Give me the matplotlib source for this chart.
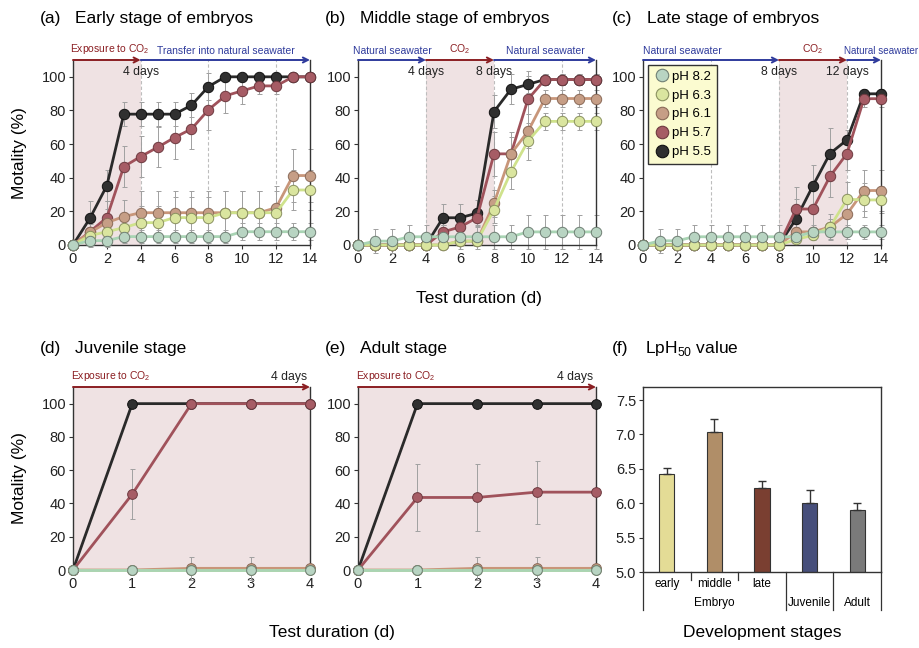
import matplotlib
matplotlib.use('Agg')
import matplotlib.pyplot as plt
from matplotlib import font_manager
from matplotlib.lines import Line2D

names = {f.name for f in font_manager.fontManager.ttflist}
NARROW = 'Liberation Sans Narrow' if 'Liberation Sans Narrow' in names else 'Liberation Sans'
NARROW_SCALE = 1.0 if NARROW == 'Liberation Sans Narrow' else 0.83
plt.rcParams['font.family'] = ['Liberation Sans', 'DejaVu Sans']

# ---------------- data ----------------
ph_labels = ['pH 8.2', 'pH 6.3', 'pH 6.1', 'pH 5.7', 'pH 5.5']

days14 = list(range(15))
days4 = list(range(5))

# (a) early stage of embryos
a_82 = [0, 2.6, 2.6, 5, 5, 5, 5, 5, 5, 5, 7.9, 7.9, 7.9, 7.9, 7.9]
a_63 = [0, 5.6, 7.9, 10.3, 13.3, 13.3, 16.3, 16.3, 16.3, 19.2, 19.2, 19.2, 19.2, 32.7, 32.7]
a_61 = [0, 7.5, 13.3, 16.9, 19.2, 19.2, 19.2, 19.2, 19.2, 19.2, 19.2, 19.2, 22.2, 41.3, 41.3]
a_57 = [0, 7.9, 16.3, 46.6, 52.6, 58.1, 63.9, 69, 80.4, 88.7, 91.7, 94.6, 94.6, 100, 100]
a_55 = [0, 15.9, 35.3, 77.8, 77.8, 77.8, 77.8, 83.1, 94.2, 100, 100, 100, 100, 100, 100]
ea_82 = [0, 4, 4, 4, 4, 4, 4, 4, 4, 4, 5, 5, 5, 5, 5]
ea_63 = [0, 4, 6, 8, 10, 10, 12, 12, 12, 13, 13, 13, 13, 12, 12]
ea_61 = [0, 5, 8, 10, 13, 13, 13, 13, 13, 13, 13, 13, 13, 16, 16]
ea_57 = [0, 6, 10, 12, 12, 12, 13, 12, 12, 10, 8, 5, 5, 0, 0]
ea_55 = [0, 10, 9, 7, 7, 7, 7, 7, 8, 0, 0, 0, 0, 0, 0]

# (b) middle stage of embryos
b_82 = [0, 2.3, 2.3, 4.9, 4.9, 4.9, 4.9, 4.9, 4.9, 4.9, 7.8, 7.8, 7.8, 7.8, 7.8]
b_63 = [0, 0, 0, 0, 0, 0, 2.3, 2.3, 21, 43.5, 61.8, 73.5, 73.5, 73.5, 73.5]
b_61 = [0, 0, 0, 0, 0, 0, 2.3, 2.3, 24.8, 54.2, 67.6, 87.1, 87.1, 87.1, 87.1]
b_57 = [0, 0, 0, 0, 0, 7.8, 10.7, 16.2, 54.2, 54.2, 86.7, 98.4, 98.4, 98.4, 98.4]
b_55 = [0, 0, 0, 0, 0, 16.2, 16.2, 18.9, 79.3, 92.6, 95.5, 98.4, 98.4, 98.4, 98.4]
eb_82 = [0, 7, 7, 7, 7, 7, 7, 7, 7, 7, 10, 10, 10, 10, 10]
eb_63 = [0, 0, 0, 0, 0, 0, 2, 2, 8, 10, 11, 5, 5, 5, 5]
eb_61 = [0, 0, 0, 0, 0, 0, 2, 2, 8, 10, 10, 5, 5, 5, 5]
eb_57 = [0, 0, 0, 0, 0, 4, 5, 5, 13, 13, 17, 3, 3, 3, 3]
eb_55 = [0, 0, 0, 0, 0, 8, 8, 8, 10, 9, 5, 3, 3, 3, 3]

# (c) late stage of embryos
c_82 = [0, 2.5, 2.5, 4.9, 4.9, 4.9, 4.9, 4.9, 4.9, 4.9, 7.8, 7.8, 7.8, 7.8, 7.8]
c_63 = [0, 0, 0, 0, 0, 0, 0, 0, 0, 3.3, 5.8, 10.7, 27.2, 26.8, 26.8]
c_61 = [0, 0, 0, 0, 0, 0, 0, 0, 0, 7.8, 7.8, 10.7, 18.4, 32.4, 32.4]
c_57 = [0, 0, 0, 0, 0, 0, 0, 0, 0, 21.4, 21.4, 40.8, 54.4, 87, 87]
c_55 = [0, 0, 0, 0, 0, 0, 0, 0, 0, 15.5, 35.3, 54.4, 62.5, 89.9, 89.9]
ec_82 = [0, 7, 7, 7, 7, 7, 7, 7, 7, 4, 4, 4, 4, 4, 4]
ec_63 = [0, 0, 0, 0, 0, 0, 0, 0, 0, 2, 3, 8, 10, 10, 8]
ec_61 = [0, 0, 0, 0, 0, 0, 0, 0, 0, 3, 3, 5, 10, 12, 12]
ec_57 = [0, 0, 0, 0, 0, 0, 0, 0, 0, 13, 13, 12, 10, 5, 5]
ec_55 = [0, 0, 0, 0, 0, 0, 0, 0, 0, 12, 12, 15, 6, 3, 3]

# (d) juvenile stage
d_82 = [0, 0, 0, 0, 0]
d_63 = [0, 0, 0, 0, 0]
d_61 = [0, 0, 1, 1, 1]
d_57 = [0, 45.6, 100, 100, 100]
d_55 = [0, 100, 100, 100, 100]
ed_82 = [0, 0, 0, 0, 0]
ed_63 = [0, 0, 0, 0, 0]
ed_61 = [0, 0, 7, 7, 0]
ed_57 = [0, 15, 0, 0, 0]
ed_55 = [0, 0, 0, 0, 0]

# (e) adult stage
e_82 = [0, 0, 0, 0, 0]
e_63 = [0, 0, 0, 0, 0]
e_61 = [0, 0, 1, 1, 1]
e_57 = [0, 43.6, 43.6, 46.8, 46.8]
e_55 = [0, 100, 100, 100, 100]
ee_82 = [0, 0, 0, 0, 0]
ee_63 = [0, 0, 0, 0, 0]
ee_61 = [0, 0, 7, 7, 0]
ee_57 = [0, 20, 20, 19, 0]
ee_55 = [0, 0, 0, 0, 0]

# (f) LpH50 values
stages = ['early', 'middle', 'late', 'Juvenile', 'Adult']
lph50 = [6.42, 7.03, 6.22, 6.00, 5.90]
lph50_err = [0.09, 0.20, 0.10, 0.19, 0.11]

# ---------------- styles ----------------
line_cols = ['#a9d4b4', '#cfe28c', '#c8967a', '#a0525b', '#2a2a2a']
face_cols = ['#b8d4c2', '#dae59f', '#c69e86', '#a65c65', '#303030']
edge_cols = ['#6f7f74', '#8a9160', '#8a6a58', '#6e3a40', '#111111']
bar_cols = ['#e4dc96', '#b08e68', '#7a3f31', '#474f7b', '#7a7a7a']
RED = '#8b1e22'
BLUE = '#2f3b9c'
PINK = '#efe2e3'
ARROW_FS = 9 * NARROW_SCALE
DAYS_FS = 10 * NARROW_SCALE + 0.5

fig = plt.figure(figsize=(9.2, 6.48), dpi=100)
W, H = 920.0, 648.0


def add_ax(x0, x1, ytop, ybot):
    return fig.add_axes([x0 / W, 1 - ybot / H, (x1 - x0) / W, (ybot - ytop) / H])


def style_axes(ax):
    ax.spines['top'].set_visible(False)
    for s in ('left', 'bottom', 'right'):
        ax.spines[s].set_color('#333333')
        ax.spines[s].set_linewidth(1.0)
    ax.tick_params(direction='out', length=3, width=0.8, colors='#333333',
                   labelsize=10.5, labelcolor='#222222', pad=2)
    ax.tick_params(axis='y', right=False)


def draw_series(ax, days, series, errs, ms=7.5):
    # draw from pH 5.5 (bottom) up to pH 8.2 (top)
    order = [4, 3, 2, 1, 0]
    for k, i in enumerate(order):
        y = series[i]
        e = errs[i]
        ax.errorbar(days, y, yerr=e, fmt='none', ecolor='#a0a0a0', elinewidth=0.7,
                    capsize=1.8, capthick=0.7, zorder=2 + k * 0.1, clip_on=False)
        ax.plot(days, y, '-', color=line_cols[i], lw=2.0, marker='o', ms=ms,
                mfc=face_cols[i], mec=edge_cols[i], mew=0.7, zorder=3 + k * 0.1,
                clip_on=False)


def arrows(ax, segs, top=110):
    for (s, e, col, lab, ha, xoff, fscale) in segs:
        ax.annotate('', xy=(e, top), xytext=(s, top),
                    arrowprops=dict(arrowstyle='->', color=col, lw=1.4,
                                    shrinkA=0, shrinkB=0, mutation_scale=9),
                    annotation_clip=False, zorder=6)
        if lab:
            if ha == 'center':
                x = (s + e) / 2.0
            elif ha == 'left':
                x = s
            else:
                x = e
            ax.annotate(lab, xy=(x + xoff, top), xytext=(0, 3), textcoords='offset points',
                        ha=ha, va='bottom', color=col, fontsize=ARROW_FS * fscale,
                        family=NARROW, annotation_clip=False)


CO2 = r'CO$_\mathregular{2}$'

# ---------- top row ----------
top_y0, top_y1 = 60, 245
xs_top = [(73, 310), (358, 596), (643, 881)]
data_top = [
    ([a_82, a_63, a_61, a_57, a_55], [ea_82, ea_63, ea_61, ea_57, ea_55]),
    ([b_82, b_63, b_61, b_57, b_55], [eb_82, eb_63, eb_61, eb_57, eb_55]),
    ([c_82, c_63, c_61, c_57, c_55], [ec_82, ec_63, ec_61, ec_57, ec_55]),
]
shades = [(0, 4), (4, 8), (8, 12)]
arrow_specs = [
    [(0, 4, RED, 'Exposure to ' + CO2, 'left', -0.15, 1.0),
     (4, 14, BLUE, 'Transfer into natural seawater', 'center', 0.05, 1.0)],
    [(0, 4, BLUE, 'Natural seawater', 'center', 0, 1.0),
     (4, 8, RED, CO2, 'center', 0, 1.0),
     (8, 14, BLUE, 'Natural seawater', 'center', 0, 1.0)],
    [(0, 8, BLUE, 'Natural seawater', 'left', 0, 1.0),
     (8, 12, RED, CO2, 'center', 0, 1.0),
     (12, 14, BLUE, 'Natural seawater', 'left', -0.2, 0.95)],
]
day_marks = [[(4, '4 days')], [(4, '4 days'), (8, '8 days')], [(8, '8 days'), (12, '12 days')]]
titles_top = [('(a)', 'Early stage of embryos', 40),
              ('(b)', 'Middle stage of embryos', 325),
              ('(c)', 'Late stage of embryos', 612)]

top_axes = []
for p in range(3):
    ax = add_ax(xs_top[p][0], xs_top[p][1], top_y0, top_y1)
    top_axes.append(ax)
    style_axes(ax)
    ax.set_xlim(0, 14)
    ax.set_ylim(0, 110)
    ax.set_xticks(range(0, 15, 2))
    ax.set_yticks(range(0, 101, 20))
    ax.axvspan(shades[p][0], shades[p][1], color=PINK, zorder=0, lw=0)
    ax.vlines([4, 8, 12], 0, 110, colors='#bdbdbd', linestyles=(0, (3, 2)),
              lw=0.8, zorder=0.5)
    draw_series(ax, days14, data_top[p][0], data_top[p][1])
    arrows(ax, arrow_specs[p])
    for (d, lab) in day_marks[p]:
        ax.text(d, 103, lab, ha='center', va='center', fontsize=DAYS_FS,
                family=NARROW, color='#222222', zorder=7)
    lab, tit, x0 = titles_top[p]
    fig.text(x0 / W, 1 - 18 / H, lab, fontsize=12.5, va='center', ha='left')
    fig.text((x0 + 35) / W, 1 - 18 / H, tit, fontsize=12.5, va='center', ha='left')

# legend in (c)
handles = [Line2D([], [], ls='none', marker='o', ms=9, mfc=face_cols[i],
                  mec=edge_cols[i], mew=0.8) for i in range(5)]
leg = top_axes[2].legend(handles, ph_labels, loc='upper left',
                         bbox_to_anchor=(0.02, 0.975), borderaxespad=0,
                         frameon=True, fancybox=False, framealpha=1,
                         facecolor='#fbfbd0', edgecolor='#333333', fontsize=9.5,
                         handletextpad=0.2, labelspacing=0.5, borderpad=0.45,
                         handlelength=1.2)
leg.get_frame().set_linewidth(1.0)
leg.set_zorder(10)

# ---------- bottom row ----------
bot_y0, bot_y1 = 387, 570
xs_bot = [(73, 310), (358, 596)]
data_bot = [
    ([d_82, d_63, d_61, d_57, d_55], [ed_82, ed_63, ed_61, ed_57, ed_55]),
    ([e_82, e_63, e_61, e_57, e_55], [ee_82, ee_63, ee_61, ee_57, ee_55]),
]
titles_bot = [('(d)', 'Juvenile stage', 40), ('(e)', 'Adult stage', 325)]
for p in range(2):
    ax = add_ax(xs_bot[p][0], xs_bot[p][1], bot_y0, bot_y1)
    style_axes(ax)
    ax.set_xlim(0, 4)
    ax.set_ylim(0, 110)
    ax.set_xticks(range(0, 5))
    ax.set_yticks(range(0, 101, 20))
    ax.axvspan(0, 4, color=PINK, zorder=0, lw=0)
    draw_series(ax, days4, data_bot[p][0], data_bot[p][1], ms=7)
    arrows(ax, [(0, 4, RED, 'Exposure to ' + CO2, 'left', -0.04, 1.0)])
    ax.annotate('4 days', xy=(3.95, 110), xytext=(0, 3), textcoords='offset points',
                ha='right', va='bottom', fontsize=DAYS_FS, family=NARROW,
                color='#222222', annotation_clip=False)
    lab, tit, x0 = titles_bot[p]
    fig.text(x0 / W, 1 - 348 / H, lab, fontsize=12.5, va='center', ha='left')
    fig.text((x0 + 35) / W, 1 - 348 / H, tit, fontsize=12.5, va='center', ha='left')

# ---------- (f) bar chart ----------
axf = add_ax(643, 881, 387, 572)
xpos = list(range(len(stages)))
axf.bar(xpos, lph50, width=0.32, bottom=0, color=bar_cols, edgecolor='#333333',
        linewidth=0.8, zorder=2)
axf.errorbar(xpos, lph50, yerr=[[0] * 5, lph50_err], fmt='none', ecolor='#333333',
             elinewidth=1.0, capsize=3, capthick=1.0, zorder=3)
axf.set_xlim(-0.5, 4.5)
axf.set_ylim(5.0, 7.69)
axf.set_yticks([5.0, 5.5, 6.0, 6.5, 7.0, 7.5])
axf.set_yticklabels(['5.0', '5.5', '6.0', '6.5', '7.0', '7.5'])
axf.set_xticks([])
for s in axf.spines.values():
    s.set_color('#333333')
    s.set_linewidth(1.0)
axf.tick_params(axis='y', direction='out', length=3, width=0.8, colors='#333333',
                labelsize=10.5, labelcolor='#222222', pad=2)
# category box below the axis
trans = axf.get_xaxis_transform()
for xv, ylow in [(-0.5, -0.205), (2.5, -0.205), (3.5, -0.205), (4.5, -0.205),
                 (0.5, -0.045), (1.5, -0.045)]:
    axf.plot([xv, xv], [0, ylow], color='#333333', lw=0.9, transform=trans,
             clip_on=False)
for i, s in enumerate(stages[:3]):
    axf.text(i, -0.065, s, transform=trans, ha='center', va='center', fontsize=8.5,
             family=NARROW)
axf.text(1, -0.165, 'Embryo', transform=trans, ha='center', va='center',
         fontsize=8.5, family=NARROW)
axf.text(3, -0.165, stages[3], transform=trans, ha='center', va='center',
         fontsize=8.5, family=NARROW)
axf.text(4, -0.165, stages[4], transform=trans, ha='center', va='center',
         fontsize=8.5, family=NARROW)
fig.text(612 / W, 1 - 348 / H, '(f)', fontsize=12.5, va='center', ha='left')
fig.text(645 / W, 1 - 348 / H, r'LpH$_\mathregular{50}$ value', fontsize=12.5,
         va='center', ha='left')

# ---------- axis labels ----------
fig.text(479 / W, 1 - 298 / H, 'Test duration (d)', fontsize=12.5, ha='center', va='center')
fig.text(332 / W, 1 - 632 / H, 'Test duration (d)', fontsize=12.5, ha='center', va='center')
fig.text(762 / W, 1 - 632 / H, 'Development stages', fontsize=12.5, ha='center', va='center')
fig.text(20 / W, 1 - 153 / H, 'Motality (%)', fontsize=12.5, rotation=90,
         ha='center', va='center')
fig.text(20 / W, 1 - 478 / H, 'Motality (%)', fontsize=12.5, rotation=90,
         ha='center', va='center')

fig.savefig('out.png', dpi=100, facecolor='white')
